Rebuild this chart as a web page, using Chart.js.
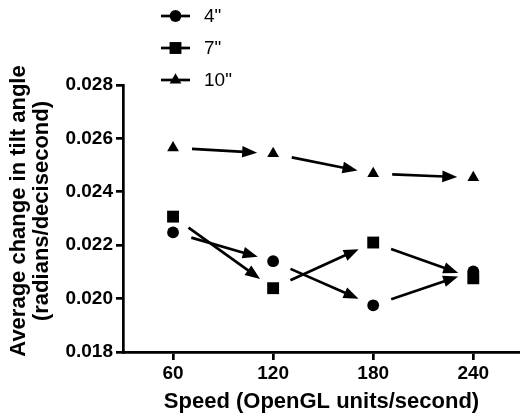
<!DOCTYPE html>
<html>
<head>
<meta charset="utf-8">
<script src="https://cdn.jsdelivr.net/npm/chart.js@4"></script>
<style>
html,body{margin:0;padding:0;background:#fff;}
#wrap{position:relative;width:520px;height:417px;}
</style>
</head>
<body>
<div id="wrap"><canvas id="c" width="520" height="417"></canvas></div>
<script>
const speeds = [60, 120, 180, 240];
const labels = ['4"', '7"', '10"'];
const tilt4 = [0.02248, 0.02140, 0.01975, 0.02102];
const tilt7 = [0.02307, 0.02039, 0.02210, 0.02076];
const tilt10 = [0.02565, 0.02543, 0.02468, 0.02453];
const yTicks = [0.018, 0.020, 0.022, 0.024, 0.026, 0.028];
const yTitle = ['Average change in tilt angle', '(radians/decisecond)'];
const xTitle = 'Speed (OpenGL units/second)';

const FONT = '"Liberation Sans", Arial, Helvetica, sans-serif';
const styles = [
  {pointStyle: 'circle', radius: 5.9},
  {pointStyle: 'rect', radius: 8.4},
  {pointStyle: 'triangle', radius: 6.8}
];
const seriesVals = [tilt4, tilt7, tilt10];

const datasets = seriesVals.map((vals, i) => ({
  label: labels[i],
  data: speeds.map((s, j) => ({x: s, y: vals[j]})),
  showLine: false,
  pointStyle: styles[i].pointStyle,
  pointRadius: styles[i].radius,
  pointHoverRadius: styles[i].radius,
  pointBackgroundColor: '#000',
  pointBorderColor: '#000',
  pointBorderWidth: 0,
  backgroundColor: '#000',
  borderColor: '#000'
}));

const arrowPlugin = {
  id: 'arrows',
  afterDatasetsDraw(chart) {
    const ctx = chart.ctx;
    const startGap = 19, endGap = 16, headLen = 15, headHalf = 5.8;
    ctx.save();
    ctx.strokeStyle = '#000';
    ctx.fillStyle = '#000';
    ctx.lineWidth = 2.7;
    chart.data.datasets.forEach((ds, di) => {
      const meta = chart.getDatasetMeta(di);
      for (let i = 0; i < meta.data.length - 1; i++) {
        const a = meta.data[i], b = meta.data[i + 1];
        const dx = b.x - a.x, dy = b.y - a.y;
        const len = Math.hypot(dx, dy);
        const ux = dx / len, uy = dy / len;
        const sx = a.x + ux * startGap, sy = a.y + uy * startGap;
        const tx = b.x - ux * endGap, ty = b.y - uy * endGap;
        const bx = tx - ux * headLen, by = ty - uy * headLen;
        ctx.beginPath();
        ctx.moveTo(sx, sy);
        ctx.lineTo(bx + ux * 2, by + uy * 2);
        ctx.stroke();
        ctx.beginPath();
        ctx.moveTo(tx, ty);
        ctx.lineTo(bx - uy * headHalf, by + ux * headHalf);
        ctx.lineTo(bx + uy * headHalf, by - ux * headHalf);
        ctx.closePath();
        ctx.fill();
      }
    });
    ctx.restore();
  }
};

const legendPlugin = {
  id: 'customLegend',
  afterDraw(chart) {
    const ctx = chart.ctx;
    const rowsY = [16, 48, 80];
    ctx.save();
    chart.data.datasets.forEach((ds, i) => {
      const y = rowsY[i];
      ctx.strokeStyle = '#000';
      ctx.lineWidth = 2.7;
      ctx.beginPath();
      ctx.moveTo(161, y);
      ctx.lineTo(190, y);
      ctx.stroke();
      ctx.fillStyle = '#000';
      Chart.helpers.drawPoint(ctx, {pointStyle: ds.pointStyle, rotation: 0, borderWidth: 0, radius: ds.pointRadius}, 175.5, y);
      ctx.font = '19px ' + FONT;
      ctx.textBaseline = 'middle';
      ctx.textAlign = 'left';
      ctx.fillText(ds.label, 204, y + 1);
    });
    ctx.restore();
  }
};

const yTitlePlugin = {
  id: 'yTitle',
  afterDraw(chart) {
    const ctx = chart.ctx;
    ctx.save();
    ctx.fillStyle = '#000';
    ctx.font = 'bold 22px ' + FONT;
    ctx.textAlign = 'center';
    ctx.textBaseline = 'middle';
    const xs = [18.5, 41.5];
    yTitle.forEach((t, i) => {
      ctx.save();
      ctx.translate(xs[i], 211);
      ctx.rotate(-Math.PI / 2);
      ctx.fillText(t, 0, 0);
      ctx.restore();
    });
    ctx.restore();
  }
};

new Chart(document.getElementById('c'), {
  type: 'scatter',
  data: {datasets},
  plugins: [arrowPlugin, legendPlugin, yTitlePlugin],
  options: {
    responsive: false,
    animation: false,
    events: [],
    layout: {autoPadding: false, padding: {top: 85, left: 0, right: 0, bottom: 0}},
    plugins: {legend: {display: false}, tooltip: {enabled: false}, title: {display: false}},
    scales: {
      x: {
        type: 'linear',
        min: 30,
        max: 268,
        afterFit(scale) { scale.height = 65; scale.paddingRight = 0; scale.paddingLeft = 0; },
        afterBuildTicks(scale) { scale.ticks = speeds.map(v => ({value: v})); },
        border: {display: true, color: '#000', width: 2.7},
        grid: {drawOnChartArea: false, drawTicks: true, tickLength: 8, color: '#000', lineWidth: 2.7},
        ticks: {color: '#000', padding: 2, maxRotation: 0, font: {family: FONT, size: 19, weight: 'bold'}},
        title: {display: true, text: xTitle, color: '#000',
          font: {family: FONT, size: 22, weight: 'bold', lineHeight: 1.1}, padding: {top: 0, bottom: 3}}
      },
      y: {
        type: 'linear',
        min: 0.018,
        max: 0.028,
        afterFit(scale) { scale.width = 123; scale.paddingTop = 0; scale.paddingBottom = 0; },
        afterBuildTicks(scale) { scale.ticks = yTicks.map(v => ({value: v})); },
        border: {display: true, color: '#000', width: 2.7},
        grid: {drawOnChartArea: false, drawTicks: true, tickLength: 7, color: '#000', lineWidth: 2.7},
        ticks: {color: '#000', padding: 3, callback: v => v.toFixed(3), font: {family: FONT, size: 19, weight: 'bold'}},
        title: {display: false}
      }
    }
  }
});
</script>
</body>
</html>
